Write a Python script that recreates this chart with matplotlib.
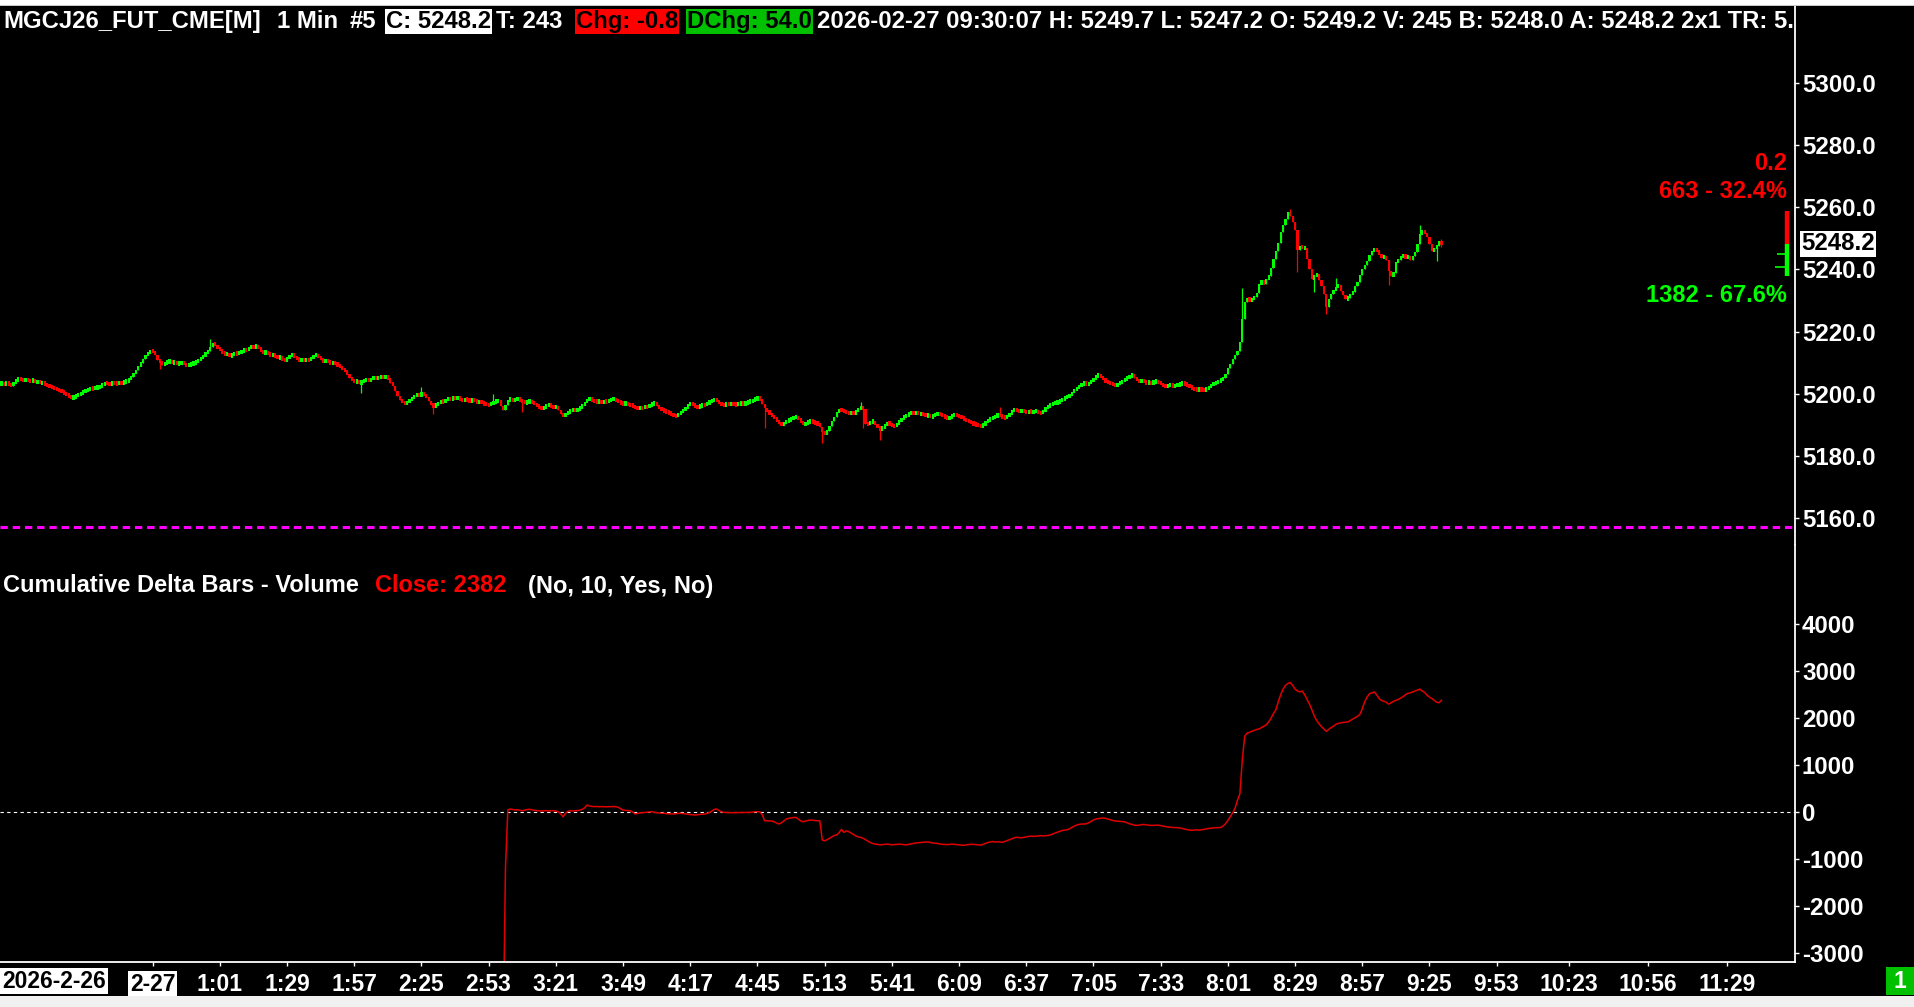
import matplotlib
matplotlib.use("Agg")
import matplotlib.pyplot as plt
from matplotlib.patches import Rectangle
import numpy as np

plt.rcParams['font.family'] = ['Liberation Sans', 'DejaVu Sans']
plt.rcParams['font.weight'] = 'bold'

W, H = 1914, 1007

# ---- data -------------------------------------------------------------
# 1-minute closes of MGCJ26, 23:30 (2-26) .. 09:30 (2-27)
closes = [
    # 23:30
    5203.4, 5203.0, 5203.6, 5202.9, 5202.6, 5203.5, 5204.3, 5204.8, 5204.5, 5204.2,
    5204.6, 5204.3, 5204.0, 5204.4, 5203.8, 5203.9, 5203.5, 5203.6, 5203.0, 5202.7,
    5202.4, 5202.0, 5201.6, 5201.3, 5201.0, 5200.6, 5200.1, 5199.6, 5199.2, 5198.6,
    # 00:00
    5198.9, 5199.4, 5199.8, 5200.1, 5200.6, 5201.0, 5201.4, 5201.8, 5201.5, 5202.0,
    5202.1, 5202.4, 5202.9, 5203.5, 5203.2, 5203.0, 5203.6, 5203.4, 5203.2, 5203.6,
    5203.5, 5203.8, 5204.0, 5204.6, 5205.5, 5206.6, 5207.5, 5209.0, 5209.9, 5211.2,
    5212.4, 5213.2, 5213.8, 5213.5, 5212.6, 5210.9, 5210.2, 5209.4, 5209.8, 5210.3,
    5210.5, 5209.9, 5210.2, 5209.6, 5209.8, 5210.1, 5209.5, 5209.0, 5209.3, 5209.6,
    5209.9, 5210.3, 5210.9, 5211.4, 5212.2, 5213.0, 5213.8, 5215.1, 5216.4, 5215.6,
    # 01:00
    5214.6, 5214.0, 5213.2, 5212.6, 5212.9, 5212.2, 5212.5, 5213.1, 5212.8, 5213.2,
    5213.7, 5214.2, 5214.0, 5214.7, 5215.3, 5214.9, 5215.4, 5214.6, 5213.8, 5213.1,
    5213.4, 5212.9, 5212.4, 5212.6, 5212.0, 5211.5, 5211.8, 5210.9, 5210.6, 5211.4,
    5212.3, 5212.6, 5211.9, 5211.2, 5210.8, 5211.1, 5210.6, 5211.0, 5210.7, 5211.5,
    5212.2, 5212.6, 5211.8, 5211.0, 5210.4, 5210.8, 5210.2, 5209.8, 5210.1, 5209.7,
    5209.2, 5208.6, 5208.0, 5207.4, 5206.2, 5205.1, 5204.4, 5203.8, 5204.0, 5203.4,
    # 02:00
    5203.9, 5204.3, 5204.6, 5204.2, 5204.8, 5205.3, 5204.9, 5205.2, 5205.6, 5205.1,
    5205.7, 5204.8, 5203.6, 5202.5, 5201.0, 5199.2, 5198.1, 5197.4, 5196.8, 5197.2,
    5198.0, 5198.7, 5199.3, 5199.8, 5199.4, 5200.1, 5199.6, 5198.8, 5197.6, 5196.5,
    5195.9, 5196.4, 5197.1, 5197.6, 5197.3, 5198.0, 5198.4, 5198.1, 5198.9, 5198.5,
    5198.7, 5198.2, 5197.8, 5198.3, 5198.0, 5197.6, 5198.1, 5197.7, 5197.2, 5197.5,
    5197.0, 5196.8, 5196.5, 5196.3, 5196.9, 5197.3, 5197.6, 5197.9, 5196.1, 5194.6,
    # 03:00
    5196.4, 5197.9, 5198.3, 5197.8, 5198.0, 5198.4, 5197.9, 5197.5, 5197.0, 5197.3,
    5197.6, 5197.2, 5196.8, 5196.1, 5195.6, 5195.2, 5195.7, 5196.1, 5196.5, 5196.0,
    5195.6, 5195.9, 5194.8, 5193.5, 5192.7, 5193.4, 5194.0, 5194.6, 5194.9, 5194.5,
    5195.0, 5195.4, 5196.3, 5197.2, 5198.1, 5198.4, 5197.9, 5197.6, 5197.3, 5197.6,
    5197.2, 5197.5, 5197.4, 5197.9, 5198.1, 5198.3, 5197.8, 5197.3, 5197.0, 5196.8,
    5196.9, 5196.5, 5196.3, 5196.0, 5195.5, 5195.2, 5195.6, 5195.4, 5195.9, 5195.7,
    # 04:00
    5196.3, 5196.8, 5197.0, 5196.2, 5195.4, 5194.8, 5194.5, 5194.1, 5193.8, 5193.5,
    5193.0, 5192.7, 5193.4, 5194.1, 5194.8, 5195.5, 5196.3, 5196.9, 5196.4, 5195.9,
    5195.7, 5196.0, 5196.5, 5196.3, 5196.9, 5197.4, 5197.9, 5198.2, 5197.6, 5197.0,
    5196.5, 5196.3, 5196.8, 5196.5, 5196.9, 5196.6, 5196.4, 5196.8, 5197.0, 5196.7,
    5197.1, 5197.3, 5197.6, 5197.9, 5198.3, 5198.7, 5198.2, 5196.8, 5195.3, 5194.4,
    5193.6, 5192.8, 5192.1, 5191.3, 5190.4, 5189.9, 5190.5, 5191.1, 5191.6, 5191.9,
    # 05:00
    5192.3, 5192.6, 5191.8, 5190.9, 5190.1, 5190.4, 5191.0, 5191.2, 5190.8, 5190.6,
    5190.3, 5189.4, 5187.8, 5186.9, 5188.1, 5189.6, 5191.2, 5192.6, 5194.0, 5194.9,
    5194.6, 5194.3, 5194.0, 5193.6, 5193.9, 5193.5, 5194.4, 5195.1, 5195.8, 5195.2,
    5190.4, 5190.2, 5190.9, 5191.2, 5190.1, 5189.2, 5188.5, 5189.1, 5189.8, 5190.6,
    5190.2, 5189.8, 5189.5, 5190.3, 5191.1, 5192.0, 5192.7, 5193.1, 5193.6, 5194.0,
    5193.7, 5193.9, 5193.5, 5193.6, 5193.2, 5192.9, 5193.1, 5192.6, 5192.8, 5193.3,
    # 06:00
    5193.7, 5193.4, 5192.8, 5192.5, 5192.1, 5192.4, 5192.9, 5193.3, 5193.0, 5192.7,
    5192.3, 5191.8, 5191.4, 5191.0, 5190.6, 5190.2, 5190.0, 5189.7, 5189.5, 5190.1,
    5190.8, 5191.5, 5192.0, 5192.4, 5192.8, 5193.2, 5192.9, 5192.5, 5192.1, 5192.8,
    5193.6, 5194.4, 5195.0, 5194.7, 5194.3, 5194.6, 5194.2, 5194.0, 5194.4, 5194.1,
    5194.2, 5194.5, 5193.9, 5193.8, 5194.6, 5195.3, 5196.0, 5196.5, 5196.8, 5197.1,
    5197.3, 5197.6, 5198.2, 5198.7, 5199.1, 5199.6, 5200.4, 5201.2, 5201.8, 5202.4,
    # 07:00
    5203.1, 5203.5, 5203.0, 5203.4, 5204.1, 5204.9, 5205.6, 5206.1, 5205.4, 5204.6,
    5204.0, 5203.6, 5203.2, 5202.9, 5202.7, 5203.1, 5203.6, 5204.1, 5204.6, 5205.2,
    5205.7, 5206.0, 5205.2, 5204.4, 5203.9, 5204.2, 5203.8, 5203.5, 5203.7, 5203.4,
    5203.8, 5204.0, 5203.6, 5203.1, 5202.7, 5202.3, 5202.6, 5202.9, 5202.4, 5202.6,
    5202.9, 5203.1, 5203.4, 5203.2, 5202.8, 5202.2, 5201.7, 5201.4, 5201.2, 5201.5,
    5201.3, 5201.1, 5201.6, 5202.2, 5202.8, 5203.3, 5203.6, 5204.0, 5204.5, 5205.0,
    # 08:00
    5206.5, 5208.4, 5209.6, 5211.2, 5212.3, 5213.8, 5216.5, 5224.0, 5229.5, 5230.8,
    5229.9, 5230.5, 5231.2, 5232.4, 5235.2, 5236.3, 5235.4, 5236.8, 5237.9, 5240.5,
    5243.4, 5245.8, 5248.6, 5251.9, 5254.2, 5256.3, 5258.4, 5257.2, 5255.3, 5252.6,
    5246.1, 5247.5, 5246.8, 5247.0, 5243.4, 5240.2, 5236.8, 5237.9, 5238.4, 5236.7,
    5234.6, 5232.0, 5227.8, 5230.6, 5232.1, 5233.4, 5234.2, 5235.0, 5233.1, 5231.8,
    5230.4, 5230.9, 5232.0, 5232.8, 5234.6, 5236.1, 5238.3, 5240.2, 5241.4, 5242.8,
    # 09:00
    5244.6, 5245.9, 5246.7, 5245.8, 5245.1, 5243.7, 5244.2, 5243.1, 5239.6, 5237.8,
    5238.9, 5242.3, 5243.2, 5244.0, 5244.5, 5243.8, 5244.2, 5243.0, 5244.3, 5245.6,
    5248.3, 5251.4, 5252.3, 5251.6, 5250.4, 5248.1, 5245.9, 5246.8, 5247.6, 5249.0,
    5248.2,
]
first_minute = -30          # minutes after midnight of 2-27
first_open = 5203.2

# visible wicks (minute, price)
low_wick_min = [36, 120, 150, 187, 288, 312, 329, 336, 510, 517, 522, 548, 568, 570]
low_wick_val = [5208.0, 5200.3, 5193.4, 5194.2, 5188.9, 5184.0, 5188.9, 5185.1,
                5239.3, 5232.8, 5225.6, 5235.0, 5242.8, 5247.2]
high_wick_min = [57, 145, 175, 328, 386, 487, 507, 526, 561, 570]
high_wick_val = [5217.6, 5202.0, 5199.8, 5197.4, 5195.8, 5234.0, 5259.3, 5237.1,
                 5254.3, 5249.7]

# cumulative delta (volume), starting 02:59
delta_first = 179
delta = [
    -5000,
    -1200, 43, 64, 55, 43, 50, 36, 28, 40, 52,
    57, 48, 35, 30, 25, 21, 26, 30, 24, 28,
    28, 20, 7, -40, -100, -30, 15, 28, 22, 28,
    30, 40, 57, 90, 149, 130, 120, 114, 118, 112,
    116, 114, 110, 115, 113, 116, 114, 100, 70, 43,
    35, 30, 28, 0, -43, -30, -20, -14, -10, -5,
    2, 7, -5, -15, -22, -28, -25, -35, -40, -38,
    -43, -36, -30, -28, -32, -40, -48, -55, -60, -64,
    -58, -50, -45, -43, -30, -10, 20, 55, 64, 30,
    5, -7, -10, -12, -14, -13, -14, -10, -8, -9,
    -7, -5, -8, 0, 5, 7, 3, -60, -185, -190,
    -188, -192, -210, -235, -256, -230, -190, -150, -135, -125,
    -118, -114, -150, -190, -206, -195, -180, -171, -175, -182,
    -185, -190, -597, -615, -590, -560, -530, -500, -490, -440,
    -370, -436, -400, -419, -450, -480, -510, -530, -540, -560,
    -590, -620, -650, -670, -685, -690, -700, -695, -690, -685,
    -690, -700, -695, -690, -685, -690, -695, -700, -690, -680,
    -670, -660, -655, -650, -645, -640, -640, -650, -660, -665,
    -670, -680, -690, -690, -695, -690, -685, -690, -695, -700,
    -705, -710, -700, -695, -690, -690, -695, -700, -705, -690,
    -670, -650, -640, -630, -640, -635, -640, -645, -630, -610,
    -590, -570, -550, -540, -545, -550, -540, -530, -520, -515,
    -520, -515, -510, -505, -510, -505, -500, -490, -470, -450,
    -430, -410, -395, -385, -380, -360, -330, -300, -280, -265,
    -255, -256, -250, -230, -200, -170, -150, -140, -135, -128,
    -135, -150, -165, -180, -190, -195, -200, -205, -210, -230,
    -250, -265, -280, -285, -282, -270, -265, -275, -280, -285,
    -285, -282, -280, -290, -300, -310, -320, -325, -330, -333,
    -333, -340, -350, -365, -375, -385, -390, -385, -380, -385,
    -380, -370, -360, -350, -345, -340, -335, -333, -330, -300,
    -250, -180, -100, -20, 80, 250, 385, 1100, 1615, 1680,
    1700, 1720, 1740, 1760, 1770, 1800, 1830, 1860, 1920, 2000,
    2100, 2180, 2350, 2500, 2620, 2700, 2740, 2760, 2700, 2620,
    2580, 2560, 2580, 2500, 2400, 2300, 2180, 2050, 1950, 1880,
    1820, 1770, 1720, 1760, 1800, 1830, 1870, 1890, 1900, 1910,
    1915, 1920, 1950, 1980, 2010, 2040, 2080, 2200, 2350, 2450,
    2520, 2540, 2560, 2500, 2420, 2380, 2360, 2340, 2300, 2330,
    2360, 2380, 2400, 2430, 2460, 2500, 2530, 2540, 2560, 2580,
    2600, 2620, 2580, 2550, 2490, 2450, 2420, 2380, 2340, 2330, 2382,
]

tick_minutes = [33, 61, 89, 117, 145, 173, 201, 229, 257, 285, 313, 341, 369,
                397, 425, 453, 481, 509, 537, 565, 593, 623, 656, 689]
tick_labels = ['2-27', '1:01', '1:29', '1:57', '2:25', '2:53', '3:21', '3:49',
               '4:17', '4:45', '5:13', '5:41', '6:09', '6:37', '7:05', '7:33',
               '8:01', '8:29', '8:57', '9:25', '9:53', '10:23', '10:56', '11:29']
price_ticks = [5160, 5180, 5200, 5220, 5240, 5260, 5280, 5300]
delta_ticks = [-3000, -2000, -1000, 0, 1000, 2000, 3000, 4000]

ref_line = 5157.0                       # magenta dashed level
vol_ask = (5248.1, 5258.9)              # red part of the right-edge bar
vol_bid = (5238.0, 5248.1)              # green part
vol_marks = [5244.9, 5240.9]

header = [
    (3, "MGCJ26_FUT_CME[M]", 'white', None),
    (277, "1 Min", 'white', None),
    (350, "#5", 'white', None),
    (386, "C: 5248.2", 'black', 'white'),
    (496, "T: 243", 'white', None),
    (576, "Chg: -0.8", 'black', '#ff0000'),
    (687, "DChg: 54.0", 'black', '#00c000'),
    (817, "2026-02-27 09:30:07 H: 5249.7 L: 5247.2 O: 5249.2 V: 245 "
          "B: 5248.0 A: 5248.2 2x1 TR: 5.0", 'white', None),
]

# ---- build OHLC ---------------------------------------------------------
c = np.array(closes)
x = np.arange(len(c)) + first_minute
o = np.concatenate([[first_open], c[:-1]])
hi = np.maximum(o, c)
lo = np.minimum(o, c)
for m, v in zip(low_wick_min, low_wick_val):
    lo[m - first_minute] = v
for m, v in zip(high_wick_min, high_wick_val):
    hi[m - first_minute] = v
up = c >= o
col = np.where(up, '#00ff00', '#ff0000')
mid = (o + c) / 2
body_h = np.maximum(np.abs(c - o), 1.4)   # a body is never drawn thinner than ~4 px
body_lo = mid - body_h / 2

# ---- figure -------------------------------------------------------------
fig = plt.figure(figsize=(W / 100, H / 100), dpi=100, facecolor='black')

def fx(px):
    return px / W

def fy(py):
    return 1 - py / H

xmin, xmax = -30.6, 717.3
ax1 = fig.add_axes([0, fy(545), fx(1795), (545 - 6) / H])
ax2 = fig.add_axes([0, fy(962), fx(1795), (962 - 545) / H])

for ax in (ax1, ax2):
    ax.set_facecolor('black')
    ax.set_xlim(xmin, xmax)
    for s in ('top', 'left', 'bottom'):
        ax.spines[s].set_visible(False)
    ax.spines['right'].set_color('white')
    ax.spines['right'].set_linewidth(1.3)
    ax.yaxis.tick_right()
    ax.tick_params(axis='y', colors='white', length=3, width=1, pad=2,
                   labelsize=17.3, direction='out')

ax2.spines['bottom'].set_visible(True)
ax2.spines['bottom'].set_color('white')
ax2.spines['bottom'].set_linewidth(1.3)

# price pane
ax1.set_ylim(5151.3, 5324.8)
ax1.vlines(x, lo, hi, colors=col, linewidth=0.9)
ax1.bar(x, body_h, bottom=body_lo, width=0.9, color=col, linewidth=0)
ax1.axhline(ref_line, color='#ff00ff', linewidth=2.2, dashes=(2.4, 1.6))
ax1.set_yticks(price_ticks)
ax1.set_yticklabels([f"{p:.1f}" for p in price_ticks])
ax1.tick_params(axis='x', bottom=False, labelbottom=False)

# right-edge volume bar
vx = 713.8
ax1.vlines(vx, *vol_ask, colors='#ff0000', linewidth=3.2)
ax1.vlines(vx, *vol_bid, colors='#00ff00', linewidth=3.2)
ax1.hlines(vol_marks, [vx - 4.0, vx - 5.0], vx, colors='#00ff00', linewidth=1.2)

ax1.text(1.0034, c[-1], f"{c[-1]:.1f}", transform=ax1.get_yaxis_transform(),
         ha='left', va='center', fontsize=17.3, color='black', clip_on=False,
         bbox=dict(boxstyle='square,pad=0.06', fc='white', ec='none'))

ax1.text(fx(1787), fy(163), "0.2", transform=fig.transFigure, ha='right',
         va='center', fontsize=17, color='#ff0000')
ax1.text(fx(1787), fy(191), "663 - 32.4%", transform=fig.transFigure, ha='right',
         va='center', fontsize=17, color='#ff0000')
ax1.text(fx(1787), fy(295), "1382 - 67.6%", transform=fig.transFigure, ha='right',
         va='center', fontsize=17, color='#00ff00')

for px, s, fg, bg in header:
    kw = {}
    if bg:
        kw['bbox'] = dict(boxstyle='square,pad=0.05', fc=bg, ec='none')
    ax1.text(fx(px), fy(21.5), s, transform=fig.transFigure, ha='left',
             va='center', fontsize=17.2, color=fg, clip_on=True, **kw)

# delta pane
xd = np.arange(len(delta)) + delta_first
ax2.set_ylim(-3198, 5693)
ax2.axhline(0, color='white', linewidth=0.8, dashes=(3, 3))
ax2.plot(xd, delta, color='#e00000', linewidth=1.1)
ax2.set_yticks(delta_ticks)
ax2.set_yticklabels([str(v) for v in delta_ticks])
ax2.set_xticks(tick_minutes)
ax2.set_xticklabels(tick_labels)
ax2.tick_params(axis='x', colors='white', length=3, width=1, pad=5,
                labelsize=16.5, direction='out')
lab0 = ax2.get_xticklabels()[0]
lab0.set_color('black')
lab0.set_bbox(dict(boxstyle='square,pad=0.08', fc='white', ec='none'))

ax2.text(fx(3), fy(586), "Cumulative Delta Bars - Volume", transform=fig.transFigure,
         ha='left', va='center', fontsize=17, color='white')
ax2.text(fx(375), fy(586), "Close: 2382", transform=fig.transFigure,
         ha='left', va='center', fontsize=17, color='#ff0000')
ax2.text(fx(528), fy(586), "(No, 10, Yes, No)", transform=fig.transFigure,
         ha='left', va='center', fontsize=17, color='white')

# window chrome
fig.text(fx(2), fy(981), "2026-2-26", ha='left', va='center', fontsize=16.5,
         color='black', bbox=dict(boxstyle='square,pad=0.08', fc='white', ec='none'))
fig.patches.append(Rectangle((fx(1886), fy(995)), fx(28), 28 / H,
                             transform=fig.transFigure, fc='#00c000', ec='none'))
fig.text(fx(1900), fy(981), "1", ha='center', va='center', fontsize=16.5,
         color='white')
fig.patches.append(Rectangle((0, 0), 1, 11 / H, transform=fig.transFigure,
                             fc='#f0f0f0', ec='none'))
fig.patches.append(Rectangle((0, fy(6)), 1, 6 / H, transform=fig.transFigure,
                             fc='#ffffff', ec='none'))
fig.patches.append(Rectangle((0, fy(6)), 1, 1 / H, transform=fig.transFigure,
                             fc='#c8c8c8', ec='none'))

fig.savefig("out.png", dpi=100, facecolor='black')
